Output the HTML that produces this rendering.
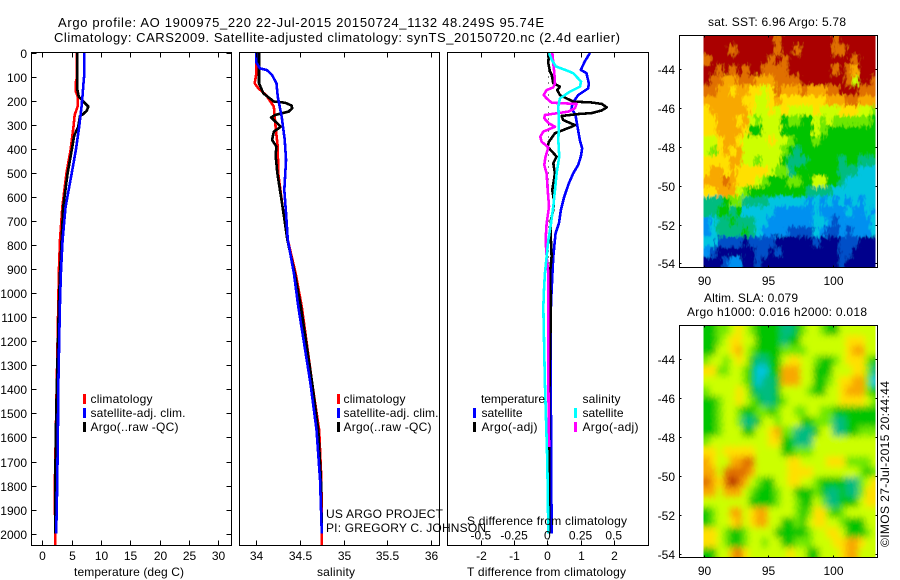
<!DOCTYPE html>
<html lang="en">
<head>
<meta charset="utf-8">
<title>Argo profile AO 1900975_220</title>
<style>
html,body{margin:0;padding:0;background:#fff;width:900px;height:580px;overflow:hidden}
svg{display:block}
text{font-family:"Liberation Sans",sans-serif;font-size:12px;fill:#000}
.t13{font-size:13px}
.frame{fill:none;stroke:#000;stroke-width:1;shape-rendering:crispEdges}
.tick{stroke:#000;stroke-width:1;shape-rendering:crispEdges}
.series{fill:none;stroke-width:2.6;stroke-linejoin:round;shape-rendering:crispEdges}
</style>
</head>
<body>
<svg id="fig" xmlns="http://www.w3.org/2000/svg" width="900" height="580" viewBox="0 0 900 580">
<defs>
<clipPath id="clipSst"><rect x="703.5" y="35.5" width="172" height="231.5"/></clipPath>
<clipPath id="clipSla"><rect x="703.5" y="325.5" width="172" height="232"/></clipPath>
<filter id="jag" x="-5%" y="-5%" width="110%" height="110%">
<feGaussianBlur in="SourceGraphic" stdDeviation="1.1" result="b"/>
<feTurbulence type="fractalNoise" baseFrequency="0.38 0.16" numOctaves="2" seed="4" result="n"/>
<feDisplacementMap in="b" in2="n" scale="10" xChannelSelector="R" yChannelSelector="G"/>
</filter>
<filter id="soft" x="-5%" y="-5%" width="110%" height="110%">
<feGaussianBlur in="SourceGraphic" stdDeviation="3.2" result="b"/>
<feTurbulence type="fractalNoise" baseFrequency="0.5 0.3" numOctaves="1" seed="7" result="n"/>
<feDisplacementMap in="b" in2="n" scale="3" xChannelSelector="R" yChannelSelector="G"/>
</filter>
</defs>

<text class="t13" x="58" y="27" textLength="486" lengthAdjust="spacing">Argo profile: AO 1900975_220 22-Jul-2015 20150724_1132 48.249S 95.74E</text>
<text class="t13" x="54" y="42" textLength="566" lengthAdjust="spacing">Climatology: CARS2009. Satellite-adjusted climatology: synTS_20150720.nc (2.4d earlier)</text>

<g id="panel1"></g>
<g id="panel2"></g>
<g id="panel3"></g>
<g id="map1"></g>
<g id="map2"></g>

<text x="74" y="576" textLength="110" lengthAdjust="spacing">temperature (deg C)</text>
<text x="317" y="576" textLength="38" lengthAdjust="spacing">salinity</text>
<text x="467" y="576" textLength="159" lengthAdjust="spacing">T difference from climatology</text>
<text x="467" y="525" textLength="160" lengthAdjust="spacing">S difference from climatology</text>

<g>
<rect x="83" y="394" width="3" height="10" fill="#f00"/>
<text x="90.5" y="403" textLength="62" lengthAdjust="spacing">climatology</text>
<rect x="83" y="408" width="3" height="10" fill="#00f"/>
<text x="90.5" y="417" textLength="95" lengthAdjust="spacing">satellite-adj. clim.</text>
<rect x="83" y="422" width="3" height="10" fill="#000"/>
<text x="90.5" y="431" textLength="88" lengthAdjust="spacing">Argo(..raw -QC)</text>
</g>
<g>
<rect x="337" y="394" width="3" height="10" fill="#f00"/>
<text x="343.5" y="403" textLength="62" lengthAdjust="spacing">climatology</text>
<rect x="337" y="408" width="3" height="10" fill="#00f"/>
<text x="343.5" y="417" textLength="95" lengthAdjust="spacing">satellite-adj. clim.</text>
<rect x="337" y="422" width="3" height="10" fill="#000"/>
<text x="343.5" y="431" textLength="88" lengthAdjust="spacing">Argo(..raw -QC)</text>
</g>
<g>
<text x="481" y="403" textLength="64" lengthAdjust="spacing">temperature</text>
<text x="582.5" y="403" textLength="38" lengthAdjust="spacing">salinity</text>
<rect x="473" y="408" width="3" height="10" fill="#00f"/>
<text x="481.5" y="417" textLength="41" lengthAdjust="spacing">satellite</text>
<rect x="473" y="422" width="3" height="10" fill="#000"/>
<text x="481.5" y="431" textLength="56" lengthAdjust="spacing">Argo(-adj)</text>
<rect x="574" y="408" width="3" height="10" fill="#0ff"/>
<text x="582.5" y="417" textLength="41" lengthAdjust="spacing">satellite</text>
<rect x="574" y="422" width="3" height="10" fill="#f0f"/>
<text x="582.5" y="431" textLength="56" lengthAdjust="spacing">Argo(-adj)</text>
</g>

<text x="326" y="518" textLength="117" lengthAdjust="spacing">US ARGO PROJECT</text>
<text x="326" y="532" textLength="160" lengthAdjust="spacing">PI: GREGORY C. JOHNSON</text>

<text x="708" y="26" textLength="138" lengthAdjust="spacing">sat. SST: 6.96 Argo: 5.78</text>
<text x="704" y="302" textLength="94" lengthAdjust="spacing">Altim. SLA: 0.079</text>
<text x="687" y="316" textLength="180" lengthAdjust="spacing">Argo h1000: 0.016 h2000: 0.018</text>
<text transform="translate(889 547) rotate(-90)" x="0" y="0" textLength="166" lengthAdjust="spacing">©IMOS 27-Jul-2015 20:44:44</text>
</svg>

<script>
// ---------- axis tick labels ----------
const depthTicks = [0,100,200,300,400,500,600,700,800,900,1000,1100,1200,1300,1400,1500,1600,1700,1800,1900,2000];
const tempTicks = [0,5,10,15,20,25,30];
const salTicks = [34,34.5,35,35.5,36];
const tDiffTicks = [-2,-1,0,1,2];
const sDiffTicks = [-0.5,-0.25,0,0.25,0.5];
const lonTicks = [90,95,100];
const latTicks = [-44,-46,-48,-50,-52,-54];

// ---------- temperature profiles ----------
const tempClimDepth = [0,100,126,160,180,223,258,307,404,500,640,778,917,1055,1500,1800,2000,2050];
const tempClimValue = [5.9,5.9,5.66,5.7,6.0,6.0,5.5,5.3,4.8,4.1,3.4,3.0,2.8,2.7,2.35,2.12,2.18,2.18];
const tempSatDepth = [0,100,126,175,223,307,404,500,640,778,917,1055,1400,1560,1800,2000];
const tempSatValue = [7.1,7.1,7.0,6.85,6.67,6.27,5.7,5.0,3.95,3.44,3.15,2.98,2.7,2.65,2.52,2.35];
const tempArgoDepth = [0,150,182,209,223,240,254,262,307,345,404,500,640,778,917,1055,1500,1800,2000];
const tempArgoValue = [5.93,5.93,6.2,7.26,7.83,7.55,6.97,6.41,6.1,5.4,5.0,4.3,3.55,3.27,3.0,2.8,2.35,2.18,2.2];

// ---------- salinity profiles ----------
const salClimDepth = [0,85,126,146,175,223,307,390,500,640,778,917,1055,1375,1570,1777,2000,2050];
const salClimValue = [34.0,34.0,33.98,34.02,34.11,34.2,34.22,34.245,34.25,34.3,34.36,34.45,34.52,34.64,34.72,34.745,34.75,34.75];
const salSatDepth = [0,40,64,71,92,126,182,265,362,445,570,667,778,917,1055,1375,1570,1777,2000];
const salSatValue = [34.0,34.0,34.04,34.12,34.18,34.23,34.245,34.29,34.325,34.34,34.32,34.34,34.36,34.43,34.48,34.62,34.69,34.73,34.75];
const salArgoDepth = [0,126,168,196,202,207,219,230,244,251,258,268,307,327,362,390,424,500,640,778,917,1055,1375,1570,1777,2000];
const salArgoValue = [34.03,34.03,34.08,34.18,34.2,34.33,34.405,34.41,34.37,34.29,34.214,34.168,34.28,34.2,34.18,34.23,34.22,34.24,34.3,34.355,34.44,34.51,34.64,34.71,34.74,34.75];

// ---------- difference profiles ----------
const tDiffSatDepth = [0,35,70,84,126,147,175,209,230,258,307,362,397,431,466,501,542,598,653,709,750,847,986,1056,1375,1500,2000];
const tDiffSatValue = [1.285,1.13,1.01,1.18,1.25,1.235,0.93,0.76,0.73,0.85,0.91,0.98,1.05,1.01,0.93,0.78,0.65,0.51,0.41,0.35,0.25,0.18,0.13,0.11,0.1,0.11,0.13];
const tDiffArgoDepth = [0,42,77,91,126,140,154,175,189,202,206,212,226,239,250,254,262,279,300,307,334,369,390,431,459,501,570,612,653,695,750,847,917,1056,1500,2000];
const tDiffArgoValue = [0.05,0.03,0.08,0.13,0.18,0.38,0.3,0.38,0.58,0.78,1.34,1.64,1.79,1.64,1.34,0.93,0.43,0.48,0.83,0.73,0.23,0.05,0.01,0.28,0.18,0.23,0.15,0.2,0.18,0.11,0.1,0.13,0.08,0.11,0.05,0.05];
const sDiffSatDepth = [0,28,56,70,84,119,140,161,189,223,292,362,431,501,570,639,709,778,847,917,986,1056,1375,1555,1700,2000];
const sDiffSatValue = [0.013,0.033,0.065,0.133,0.196,0.254,0.246,0.17,0.095,0.083,0.088,0.083,0.09,0.07,0.058,0.045,0.028,0.008,-0.005,-0.018,-0.025,-0.03,-0.018,-0.008,0,0.008];
const sDiffArgoDepth = [0,42,84,126,143,154,175,189,207,212,230,244,258,272,293,307,327,348,369,393,431,466,501,570,639,709,778,847,917,1056,1375,1640];
const sDiffArgoValue = [0.038,0.045,0.053,0.058,0.045,-0.005,-0.028,-0.005,0.033,0.22,0.208,0.158,-0.018,-0.023,0.013,0.058,-0.03,-0.053,-0.043,0.008,-0.013,-0.023,-0.005,0.003,0.013,-0.005,-0.013,-0.005,0.008,0.008,0.008,0.013];

// ---------- map grids (colour level per 0.5-degree cell) ----------
const sstLevels = [
[11,11,11,11,11,11,11,11,11,11,11,10,11,11,11,11,11,11,11,11,10,11,11,11,11,11,11],
[11,11,11,11,10,11,11,11,11,11,11,10,11,11,10,11,11,11,11,11,10,10,11,11,11,11,11],
[10,11,11,11,11,11,11,11,11,11,10,11,10,11,11,11,11,11,11,11,11,11,11,10,11,11,11],
[11,11,10,11,10,11,10,11,11,10,10,10,10,11,11,11,11,11,11,11,10,11,10,9,11,11,11],
[11,10,10,9,9,10,10,10,9,9,9,10,10,10,10,11,11,11,11,11,11,11,10,7,11,11,10],
[10,10,9,9,8,9,9,8,8,7,8,10,9,9,9,10,9,9,9,10,10,11,11,11,10,10,10],
[9,9,9,9,9,9,8,8,7,7,8,9,8,8,8,8,8,8,8,9,9,9,10,10,9,9,9],
[8,9,9,9,9,9,9,8,7,7,8,7,8,7,7,7,7,8,7,7,7,8,8,8,7,7,6],
[8,8,9,9,9,8,9,7,6,7,7,7,5,6,6,5,5,7,6,7,6,6,6,6,6,6,5],
[8,8,9,9,9,9,8,5,5,7,7,7,5,5,5,5,5,7,6,5,5,5,5,5,5,5,5],
[7,7,8,9,9,8,7,7,7,7,8,7,7,6,5,5,5,6,5,5,5,5,5,5,5,5,5],
[7,6,8,9,8,9,7,7,7,7,7,7,6,5,4,5,5,5,5,5,5,5,5,5,5,5,5],
[8,8,8,8,9,9,7,7,6,7,7,7,5,4,4,4,5,5,5,5,5,4,5,5,4,4,4],
[8,9,9,8,9,8,8,8,8,8,7,6,6,4,5,5,5,5,5,5,5,4,4,4,3,3,3],
[9,9,9,10,9,8,8,8,7,6,5,5,5,6,6,5,5,7,7,5,5,4,3,3,3,3,3],
[8,8,9,9,9,7,6,5,5,5,5,5,5,5,5,5,4,4,4,4,3,3,3,3,3,3,3],
[4,4,4,5,6,6,4,4,4,4,3,3,3,3,3,3,2,3,2,3,2,3,2,3,2,3,3],
[4,4,5,5,4,5,3,3,3,3,3,2,2,2,2,2,2,3,2,2,2,2,3,2,2,3,2],
[2,3,4,4,5,4,4,4,3,3,2,2,2,2,2,2,2,3,3,2,1,2,2,2,2,2,3],
[2,3,4,4,4,4,5,4,3,2,2,2,2,1,1,1,1,3,2,1,1,2,1,2,2,2,3],
[3,3,1,1,1,1,0,1,1,1,1,0,0,0,0,0,0,1,0,0,0,1,1,1,0,0,0],
[2,1,0,0,0,0,0,0,1,1,0,1,0,0,0,0,0,0,0,0,0,1,1,0,0,0,0],
[0,0,0,1,2,2,0,0,1,0,0,0,0,0,0,0,0,0,0,0,0,1,0,0,0,0,0]
];
const slaLevels = [
[5,5,6,6,7,8,7,6,5,5,5,5,4,4,5,6,7,7,6,5,5,7,7,7,7,7,7],
[5,5,6,7,8,8,7,7,5,5,5,5,4,5,5,7,7,7,7,7,7,7,8,8,8,7,7],
[5,5,7,7,8,9,7,6,5,5,5,5,6,6,6,6,7,7,7,7,7,7,8,9,9,7,7],
[6,7,7,6,7,8,7,5,4,4,5,5,7,8,8,7,7,6,5,5,6,7,8,8,8,6,5],
[8,8,6,6,7,7,6,5,3,3,5,5,9,9,9,7,7,5,5,5,7,7,7,8,8,6,4],
[7,7,7,7,7,7,6,5,3,4,4,5,9,9,9,7,7,5,5,6,7,8,8,9,9,6,3],
[6,7,7,7,7,8,7,5,4,4,4,5,7,7,7,7,6,5,5,7,7,8,9,9,9,6,5],
[5,5,6,7,7,8,7,6,5,4,4,5,6,7,7,7,7,7,7,7,7,8,8,8,8,7,6],
[5,5,6,7,7,6,5,5,6,6,5,6,7,7,6,6,7,7,6,6,5,5,5,5,5,5,5],
[5,5,6,7,7,6,4,4,5,7,7,6,7,7,7,5,5,6,6,6,4,4,5,5,5,5,5],
[5,5,6,7,7,7,5,5,7,7,8,9,6,6,4,4,4,5,7,7,4,4,5,5,6,6,6],
[6,7,7,7,7,7,7,7,7,7,8,8,5,5,4,4,4,7,7,7,7,7,7,7,7,7,7],
[8,8,7,8,8,8,8,8,7,7,7,7,5,5,6,6,6,7,7,7,7,7,7,7,7,7,7],
[9,8,7,7,9,9,10,10,7,7,7,7,7,8,8,7,7,7,7,8,8,8,6,6,6,6,7],
[9,9,7,10,10,10,10,9,7,7,7,7,7,8,8,8,8,7,7,7,7,7,7,7,6,5,6],
[10,9,8,10,11,10,9,7,6,5,5,7,7,8,8,7,7,6,5,5,5,5,4,4,6,7,8],
[9,9,7,9,9,9,7,6,5,5,5,6,7,7,5,5,5,6,5,4,4,5,4,4,6,8,8],
[7,7,7,7,7,7,7,5,5,5,5,6,7,7,6,5,5,7,6,4,4,5,5,5,7,8,8],
[5,6,7,7,9,9,7,8,9,9,7,7,7,7,6,5,6,8,8,6,5,6,7,7,7,7,7],
[5,6,7,7,8,9,7,8,9,9,7,7,5,5,6,5,7,8,8,7,7,6,5,5,5,7,7],
[8,8,7,6,5,5,6,7,7,7,7,5,5,5,5,5,6,7,7,8,8,7,5,5,5,6,7],
[8,8,7,6,5,5,6,7,7,6,7,7,5,5,6,6,6,7,7,7,8,8,9,9,8,7,7],
[5,5,7,7,9,10,8,7,7,7,7,7,7,8,7,7,5,5,7,7,7,8,9,9,7,7,7]
];
const levelColors = ['#00008c','#0050c8','#0090f0','#00c4e0','#00bc80','#00c400','#70e800','#ccff00','#ffe000','#f8a800','#e07000','#aa0000'];

// ---------- axis functions ----------
const NS = 'http://www.w3.org/2000/svg';
const yDepth = d => 53 + 0.2403 * d;
const xTemp = v => 42.4 + 5.867 * v;
const xSal = v => 256.4 + 87.2 * (v - 34);
const xTDiff = v => 547.3 + 33.2 * v;
const xSDiff = v => 547.3 + 132.8 * v;
const xLon = v => 703.5 + 12.9 * (v - 90);
const ySstLat = v => 69.3 + 19.4 * (-44 - v);
const ySlaLat = v => 359 + 19.47 * (-44 - v);

function el(tag, parent, attrs) {
  const e = document.createElementNS(NS, tag);
  for (const k in attrs) e.setAttribute(k, attrs[k]);
  parent.appendChild(e);
  return e;
}
function tickLine(parent, x1, y1, x2, y2, name) {
  const t = el('line', parent, {x1: x1, y1: y1, x2: x2, y2: y2, class: 'tick'});
  
  
}
function label(parent, x, y, str, anchor, name) {
  const t = el('text', parent, {x: x, y: y, 'text-anchor': anchor});
  t.textContent = str;
  
  
}
function frame(parent, x0, y0, x1, y1) {
  const r = el('rect', parent, {x: x0, y: y0, width: x1 - x0, height: y1 - y0, class: 'frame'});
  
  
}
function profile(parent, depths, values, xf, color, name) {
  const pts = depths.map((d, i) => xf(values[i]).toFixed(2) + ',' + yDepth(d).toFixed(2)).join(' ');
  const p = el('polyline', parent, {points: pts, class: 'series', stroke: color});
  
  
}

const TOP = 52.5, BOT = 545.5;

// ---------- panel 1 ----------
const p1 = document.getElementById('panel1');
profile(p1, tempClimDepth, tempClimValue, xTemp, '#f00', 'temperature-climatology-line');
profile(p1, tempArgoDepth, tempArgoValue, xTemp, '#000', 'temperature-argo-line');
profile(p1, tempSatDepth, tempSatValue, xTemp, '#00f', 'temperature-satellite-line');
frame(p1, 31.5, TOP, 231.5, BOT);
depthTicks.forEach(d => {
  const y = Math.round(yDepth(d)) + 0.5;
  tickLine(p1, 31.5, y, 36.5, y, 'depth-tick-left');
  tickLine(p1, 226.5, y, 231.5, y, 'depth-tick-right');
  label(p1, 27, y + 4.5, String(d), 'end', 'depth-tick-label');
});
tempTicks.forEach(v => {
  const x = Math.round(xTemp(v)) + 0.5;
  tickLine(p1, x, TOP, x, TOP + 5, 'temperature-tick-top');
  tickLine(p1, x, BOT - 5, x, BOT, 'temperature-tick-bottom');
  label(p1, x, 560, String(v), 'middle', 'temperature-tick-label');
});

// ---------- panel 2 ----------
const p2 = document.getElementById('panel2');
profile(p2, salClimDepth, salClimValue, xSal, '#f00', 'salinity-climatology-line');
profile(p2, salArgoDepth, salArgoValue, xSal, '#000', 'salinity-argo-line');
profile(p2, salSatDepth, salSatValue, xSal, '#00f', 'salinity-satellite-line');
frame(p2, 239.5, TOP, 439.5, BOT);
salTicks.forEach(v => {
  const x = Math.round(xSal(v)) + 0.5;
  tickLine(p2, x, TOP, x, TOP + 5, 'salinity-tick-top');
  tickLine(p2, x, BOT - 5, x, BOT, 'salinity-tick-bottom');
  label(p2, x, 560, String(v), 'middle', 'salinity-tick-label');
});

// ---------- panel 3 ----------
const p3 = document.getElementById('panel3');
const zeroLine = el('line', p3, {x1: xTDiff(0) + 1, y1: TOP, x2: xTDiff(0) + 1, y2: BOT, stroke: '#000', 'stroke-width': 1, 'stroke-dasharray': '1 5', 'shape-rendering': 'crispEdges'});


profile(p3, tDiffSatDepth, tDiffSatValue, xTDiff, '#00f', 't-difference-satellite-line');
profile(p3, tDiffArgoDepth, tDiffArgoValue, xTDiff, '#000', 't-difference-argo-line');
profile(p3, sDiffArgoDepth, sDiffArgoValue, xSDiff, '#f0f', 's-difference-argo-line');
profile(p3, sDiffSatDepth, sDiffSatValue, xSDiff, '#0ff', 's-difference-satellite-line');
frame(p3, 447.5, TOP, 648.5, BOT);
tDiffTicks.forEach(v => {
  const x = Math.round(xTDiff(v)) + 0.5;
  tickLine(p3, x, TOP, x, TOP + 5, 'difference-tick-top');
  tickLine(p3, x, BOT - 5, x, BOT, 'difference-tick-bottom');
  label(p3, x, 560, String(v), 'middle', 't-difference-tick-label');
});
sDiffTicks.forEach(v => {
  label(p3, xSDiff(v), 539.5, String(v), 'middle', 's-difference-tick-label');
});

// ---------- maps ----------
function drawMap(parent, grid, yLat, latTop, latStep, boxTop, boxBot, clipId, filterId, cellName) {
  const clip = el('g', parent, {'clip-path': 'url(#' + clipId + ')'});
  
  
  const g = el('g', clip, {filter: 'url(#' + filterId + ')', 'shape-rendering': 'crispEdges'});
  
  
  const nRows = grid.length;
  grid.forEach((row, r) => {
    row.forEach((lvl, c) => {
      let x0 = xLon(90 + c * 0.5), x1 = xLon(90 + (c + 1) * 0.5);
      let y0 = yLat(latTop + r * latStep), y1 = yLat(latTop + (r + 1) * latStep);
      if (c === 0) x0 -= 14;
      if (c === row.length - 1) x1 += 14;
      if (r === 0) y0 -= 14;
      if (r === nRows - 1) y1 += 14;
      const cell = el('rect', g, {x: x0.toFixed(2), y: y0.toFixed(2), width: (x1 - x0 + 0.5).toFixed(2), height: (y1 - y0 + 0.5).toFixed(2), fill: levelColors[lvl]});
      
      
    });
  });
  frame(parent, 679.5, boxTop, 877.5, boxBot);
  lonTicks.forEach(v => {
    const x = Math.round(xLon(v)) + 0.5;
    tickLine(parent, x, boxTop, x, boxTop + 2, 'longitude-tick-top');
    tickLine(parent, x, boxBot - 2, x, boxBot, 'longitude-tick-bottom');
    label(parent, x, boxBot + 17.5, String(v), 'middle', 'longitude-tick-label');
  });
  latTicks.forEach(v => {
    const y = Math.round(yLat(v)) + 0.5;
    tickLine(parent, 679.5, y, 681.5, y, 'latitude-tick-left');
    tickLine(parent, 875.5, y, 877.5, y, 'latitude-tick-right');
    label(parent, 675, y + 4.5, String(v), 'end', 'latitude-tick-label');
  });
}
drawMap(document.getElementById('map1'), sstLevels, ySstLat, -42.23, -0.52, 35.5, 267.5, 'clipSst', 'jag', 'sst-cell');
drawMap(document.getElementById('map2'), slaLevels, ySlaLat, -42.27, -0.519, 325.5, 557.5, 'clipSla', 'soft', 'sla-cell');
</script>
</body>
</html>
